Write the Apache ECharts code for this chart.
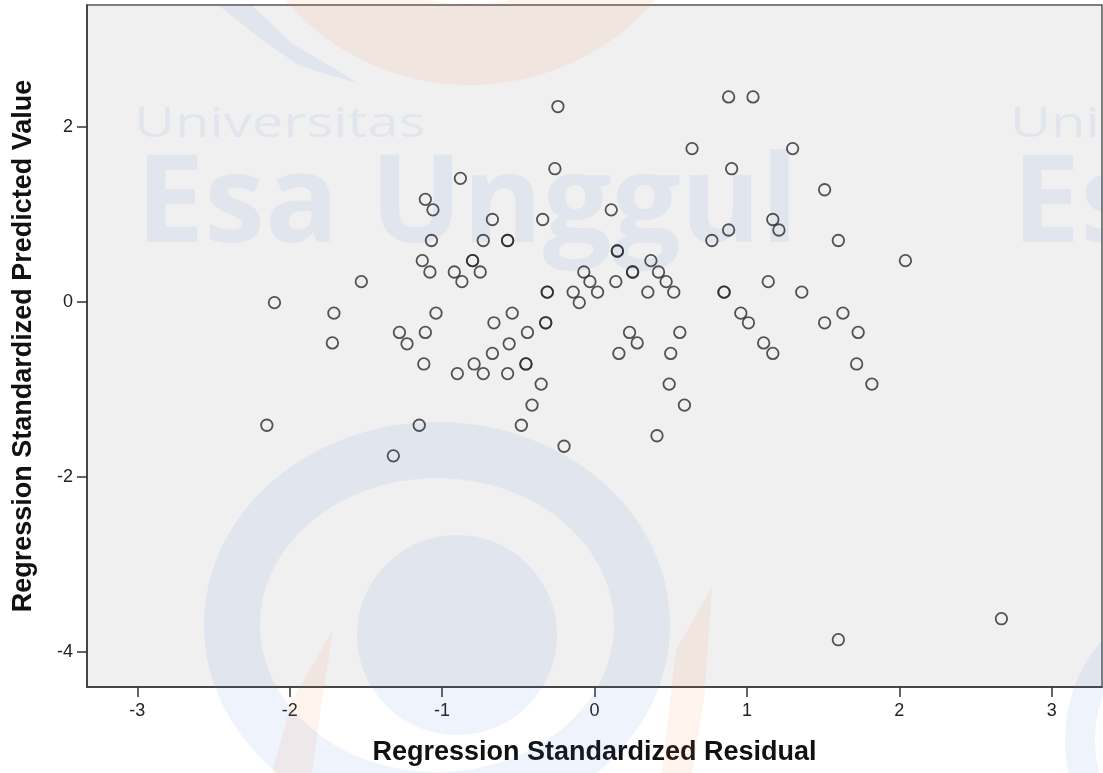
<!DOCTYPE html>
<html>
<head>
<meta charset="utf-8">
<title>Scatterplot</title>
<script src="https://cdn.jsdelivr.net/npm/echarts@6/dist/echarts.min.js"></script>
<style>
   html, body { margin: 0; padding: 0; background: #ffffff; }
   #chart { width: 1103px; height: 773px; }
</style>
</head>
<body>
<div id="chart"></div>
<script>
// Regression Standardized Residual (x) / Regression Standardized Predicted Value (y)
var residual = [ -0.24, 0.88, 1.04, 0.64, 1.30, -0.26, 0.90, -0.88, 1.51, -1.11,
                 -1.06, 0.11, -0.67, -0.34, 1.17, 1.21, 0.88, -1.07, -0.73, -0.57,
                 -0.57, 0.77, 1.60, 0.15, 0.15, 2.04, 0.37, -1.13, -0.80, -0.80,
                 -1.08, -0.92, -0.75, -0.07, 0.25, 0.25, 0.42, -1.53, -0.87, -0.03,
                 0.14, 0.47, 1.14, -0.31, -0.31, -0.14, 0.02, 0.35, 0.52, 0.85,
                 0.85, 1.36, -2.10, -0.10, -1.71, -1.04, -0.54, 0.96, 1.63, -0.66,
                 -0.32, -0.32, 1.01, 1.51, -1.28, -1.11, -0.44, 0.23, 0.56, 1.73,
                 -1.72, -1.23, -0.56, 0.28, 1.11, -0.67, 0.16, 0.50, 1.17, -1.12,
                 -0.79, -0.45, -0.45, 1.72, -0.90, -0.73, -0.57, -0.35, 0.49, 1.82,
                 -0.41, 0.59, -2.15, -1.15, -0.48, 0.41, -0.20, -1.32, 1.60, 2.67 ] ;
var predicted = [ 2.23, 2.34, 2.34, 1.75, 1.75, 1.52, 1.52, 1.41, 1.28, 1.17,
                  1.05, 1.05, 0.94, 0.94, 0.94, 0.82, 0.82, 0.70, 0.70, 0.70,
                  0.70, 0.70, 0.70, 0.58, 0.58, 0.47, 0.47, 0.47, 0.47, 0.47,
                  0.34, 0.34, 0.34, 0.34, 0.34, 0.34, 0.34, 0.23, 0.23, 0.23,
                  0.23, 0.23, 0.23, 0.11, 0.11, 0.11, 0.11, 0.11, 0.11, 0.11,
                  0.11, 0.11, -0.01, -0.01, -0.13, -0.13, -0.13, -0.13, -0.13, -0.24,
                  -0.24, -0.24, -0.24, -0.24, -0.35, -0.35, -0.35, -0.35, -0.35, -0.35,
                  -0.47, -0.48, -0.48, -0.47, -0.47, -0.59, -0.59, -0.59, -0.59, -0.71,
                  -0.71, -0.71, -0.71, -0.71, -0.82, -0.82, -0.82, -0.94, -0.94, -0.94,
                  -1.18, -1.18, -1.41, -1.41, -1.41, -1.53, -1.65, -1.76, -3.86, -3.62 ] ;
var xTicks = [ -3, -2, -1, 0, 1, 2, 3 ] ;
var yTicks = [ -4, -2, 0, 2 ] ;
var xTitle = 'Regression Standardized Residual' ;
var yTitle = 'Regression Standardized Predicted Value' ;

var points = [] ;
for( var i = 0; i < residual.length; ++i )
{
   points.push( [ residual[i], predicted[i] ] ) ;
}

var font = 'Arial, "Liberation Sans", sans-serif' ;
var blueMark = 'rgba(70,120,215,0.085)' ;
var orangeMark = 'rgba(240,120,60,0.09)' ;

//watermark behind the points
function mark( type, shape, style, extra )
{
   var el = { type: type, z: 1, silent: true, shape: shape, style: style } ;
   if( extra ) for( var k in extra ) el[k] = extra[k] ;
   return el ;
}
var watermark = [
   mark( 'ring', { cx: 470, cy: -160, r: 245, r0: 165 }, { fill: orangeMark } ),
   mark( 'polygon', { points: [ [ 218, 5 ], [ 252, 5 ], [ 290, 42 ], [ 360, 84 ], [ 300, 66 ], [ 262, 40 ] ] }, { fill: blueMark } ),
   mark( 'ellipse', { cx: 437, cy: 625, rx: 205, ry: 175 }, { fill: 'none', stroke: blueMark, lineWidth: 56 } ),
   mark( 'ellipse', { cx: 457, cy: 635, rx: 100, ry: 100 }, { fill: blueMark } ),
   mark( 'polygon', { points: [ [ 272, 773 ], [ 292, 700 ], [ 333, 630 ], [ 322, 700 ], [ 312, 773 ] ] }, { fill: orangeMark } ),
   mark( 'polygon', { points: [ [ 662, 773 ], [ 676, 650 ], [ 712, 587 ], [ 704, 700 ], [ 692, 773 ] ] }, { fill: orangeMark } ),
   mark( 'ellipse', { cx: 1180, cy: 740, rx: 100, ry: 120 }, { fill: 'none', stroke: blueMark, lineWidth: 30 } ),
   { type: 'text', z: 1, silent: true, x: 134, y: 104, scaleX: 1.34, style: { text: 'Universitas', fill: blueMark, font: '42px "Open Sans", sans-serif' } },
   { type: 'text', z: 1, silent: true, x: 136, y: 146, style: { text: 'Esa Unggul', fill: blueMark, font: 'bold 122px "Open Sans", sans-serif' } },
   { type: 'text', z: 1, silent: true, x: 1010, y: 104, scaleX: 1.34, style: { text: 'Uni', fill: blueMark, font: '42px "Open Sans", sans-serif' } },
   { type: 'text', z: 1, silent: true, x: 1012, y: 146, style: { text: 'Es', fill: blueMark, font: 'bold 122px "Open Sans", sans-serif' } }
] ;

var chart = echarts.init( document.getElementById( 'chart' ), null, { renderer: 'canvas' } ) ;
chart.setOption( {
   animation: false,
   backgroundColor: '#ffffff',
   textStyle: { fontFamily: font },
   grid: {
      left: 87, top: 5, right: 1, bottom: 86,
      show: true, backgroundColor: '#f0f0f0', borderColor: '#555555', borderWidth: 1.5
   },
   graphic: watermark,
   xAxis: {
      type: 'value', min: -3.33, max: 3.33,
      name: xTitle, nameLocation: 'middle', nameGap: 52,
      nameTextStyle: { fontFamily: font, fontWeight: 'bold', fontSize: 27, color: '#111111' },
      splitLine: { show: false },
      axisLine: { onZero: false, lineStyle: { color: '#333333', width: 1.5 } },
      axisTick: { customValues: xTicks, length: 10, lineStyle: { color: '#333333', width: 1.5 } },
      axisLabel: { customValues: xTicks, margin: 15, fontSize: 18, color: '#222222', fontFamily: font }
   },
   yAxis: {
      type: 'value', min: -4.4, max: 3.39,
      name: yTitle, nameLocation: 'middle', nameGap: 50,
      nameTextStyle: { fontFamily: font, fontWeight: 'bold', fontSize: 27, color: '#111111' },
      splitLine: { show: false },
      axisLine: { onZero: false, lineStyle: { color: '#333333', width: 1.5 } },
      axisTick: { customValues: yTicks, length: 10, lineStyle: { color: '#333333', width: 1.5 } },
      axisLabel: { customValues: yTicks, margin: 14, fontSize: 18, color: '#222222', fontFamily: font }
   },
   series: [ {
      type: 'scatter',
      data: points,
      symbol: 'circle',
      symbolSize: 11.5,
      z: 3,
      itemStyle: { color: 'rgba(0,0,0,0)', borderColor: '#2a2a2a', borderWidth: 1.8 }
   } ]
} ) ;
</script>
</body>
</html>
